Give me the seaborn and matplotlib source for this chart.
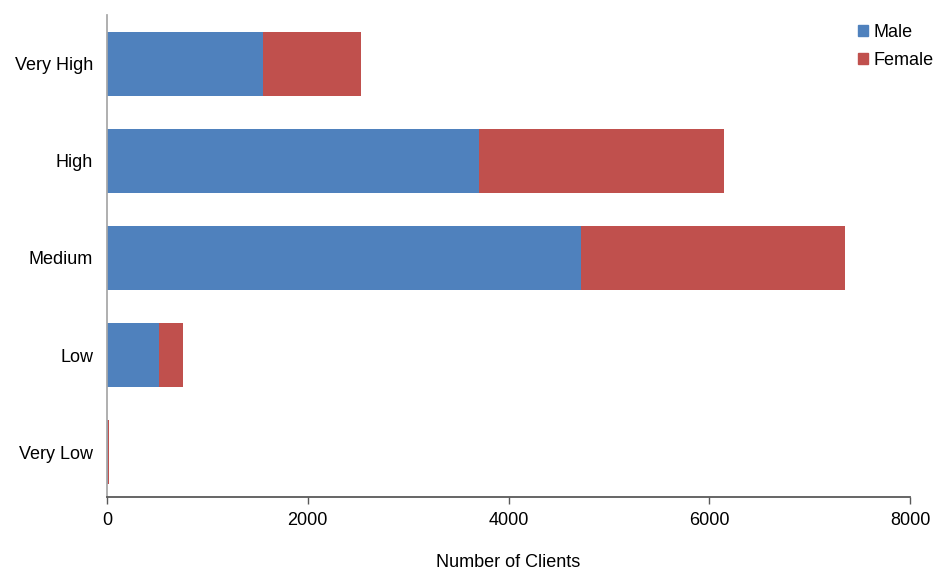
import matplotlib
matplotlib.use("Agg")
import matplotlib.pyplot as plt
import seaborn as sns
import pandas as pd
from matplotlib.patches import Patch

categories = ["Very High", "High", "Medium", "Low", "Very Low"]
male = [1554, 3705, 4721, 518, 12]
female = [976, 2440, 2630, 239, 12]

sns.set_theme(style="white")
plt.rcParams['font.family'] = ['Liberation Sans', 'DejaVu Sans']
plt.rcParams['text.color'] = 'black'
plt.rcParams['xtick.color'] = 'black'
plt.rcParams['ytick.color'] = 'black'
plt.rcParams['axes.labelcolor'] = 'black'

df = pd.DataFrame({"Category": categories, "Male": male, "Female": female})
df["Total"] = df["Male"] + df["Female"]

fig = plt.figure(figsize=(9.36, 5.71), dpi=100)
ax = fig.add_axes([107/936, 1-497/571, (910-107)/936, (497-15)/571])

male_c = "#4F81BD"
female_c = "#C0504D"

sns.barplot(data=df, y="Category", x="Total", order=categories, color=female_c,
            saturation=1, width=0.66, ax=ax, orient="h", linewidth=0)
sns.barplot(data=df, y="Category", x="Male", order=categories, color=male_c,
            saturation=1, width=0.66, ax=ax, orient="h", linewidth=0)

ax.set_xlim(0, 8000)
ax.set_ylim(4.46, -0.5)
ax.set_xticks([0, 2000, 4000, 6000, 8000])
ax.set_xlabel("Number of Clients", fontsize=13, labelpad=18)
ax.set_ylabel("")
ax.tick_params(axis="x", labelsize=13, length=5, width=1, color="#595959", direction="out", pad=6, bottom=True)
ax.tick_params(axis="y", labelsize=13, length=0, pad=10)
for s in ["top", "right"]:
    ax.spines[s].set_visible(False)
ax.spines["left"].set_color("#A6A6A6")
ax.spines["bottom"].set_color("#595959")
ax.spines["bottom"].set_linewidth(1.3)

handles = [Patch(color=male_c, label="Male"), Patch(color=female_c, label="Female")]
ax.legend(handles=handles, loc="upper right", bbox_to_anchor=(1.05, 1.015), frameon=False,
          fontsize=13, handlelength=0.55, handleheight=0.55, handletextpad=0.3, labelspacing=0.6)

fig.savefig("out.png", dpi=100)
